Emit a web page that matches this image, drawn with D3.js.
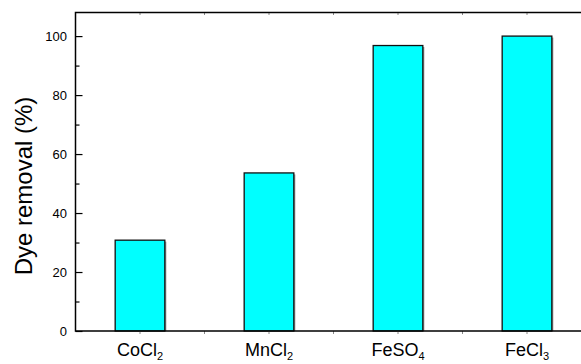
<!DOCTYPE html>
<html><head><meta charset="utf-8">
<script src="https://cdn.jsdelivr.net/npm/d3@7/dist/d3.min.js"></script>
<style>body{margin:0;background:#fff}svg{display:block}text{font-family:Arial,"Liberation Sans",sans-serif;fill:#000}</style>
</head><body>
<svg id="c" width="581" height="364"></svg>
<script>
const categories = ["CoCl2", "MnCl2", "FeSO4", "FeCl3"];
const labelMain = ["CoCl", "MnCl", "FeSO", "FeCl"];
const labelSub = ["2", "2", "4", "3"];
const values = [30.8, 53.6, 96.8, 100];
const yMajorTicks = [0, 20, 40, 60, 80, 100];
const yMinorTicks = [10, 30, 50, 70, 90];

const svg = d3.select("#c");
const L = 75.5, R = 591.5, T = 12.5, B = 331;
const x = d3.scalePoint().domain(categories).range([L, R]).padding(0.5);
const y = d3.scaleLinear().domain([0, 108]).range([B, T]);
const step = x.step();
const bw = step * 0.385;

// bars with shadow
const g = svg.append("g");
g.selectAll("rect.sh").data(values).enter().append("rect")
  .attr("x", (d,i) => x(categories[i]) - bw/2 + 1.5)
  .attr("y", d => y(d) + 1.5)
  .attr("width", bw).attr("height", d => B - y(d) - 1.5)
  .attr("fill", "#999");
g.selectAll("rect.bar").data(values).enter().append("rect")
  .attr("x", (d,i) => x(categories[i]) - bw/2)
  .attr("y", d => y(d))
  .attr("width", bw).attr("height", d => B - y(d))
  .attr("fill", "#00FFFF").attr("stroke", "#111").attr("stroke-width", 1.3);

// axes
const yAx = svg.append("g").attr("transform", `translate(${L},0)`)
  .call(d3.axisLeft(y).tickValues(yMajorTicks).tickSize(-7).tickPadding(8.5).tickFormat(d3.format("d")));
yAx.select(".domain").remove();
yAx.selectAll("text").style("font-size", "13px").attr("fill", "#000");
yAx.selectAll("line").attr("stroke", "#000").attr("stroke-width", 1.2);
const yMin = svg.append("g").attr("transform", `translate(${L},0)`)
  .call(d3.axisLeft(y).tickValues(yMinorTicks).tickSize(-4).tickFormat(""));
yMin.select(".domain").remove();
yMin.selectAll("line").attr("stroke", "#000").attr("stroke-width", 1.2);

// x ticks at centers and midpoints
const xTickPos = [];
categories.forEach((c,i) => { xTickPos.push(x(c)); if (i < categories.length-1) xTickPos.push(x(c) + step/2); });
svg.append("g").selectAll("line.bt").data(xTickPos).enter().append("line")
  .attr("x1", d => d).attr("x2", d => d).attr("y1", B).attr("y2", B + 3)
  .attr("stroke", "#888").attr("stroke-width", 1);
svg.append("g").selectAll("line.tt").data(xTickPos).enter().append("line")
  .attr("x1", d => d).attr("x2", d => d).attr("y1", T).attr("y2", T + 2.5)
  .attr("stroke", "#888").attr("stroke-width", 1);

// frame
svg.append("path").attr("d", `M${R},${T}H${L}V${B}H${R}`)
  .attr("fill", "none").attr("stroke", "#000").attr("stroke-width", 1.5);

// x labels
const xl = svg.append("g").selectAll("text").data(categories).enter().append("text")
  .attr("x", d => x(d)).attr("y", 356).attr("text-anchor", "middle").style("font-size", "18px");
xl.append("tspan").text((d,i) => labelMain[i]);
xl.append("tspan").attr("dy", 3.5).style("font-size", "11px").text((d,i) => labelSub[i]);

// y title
svg.append("text").attr("transform", `translate(32,186) rotate(-90)`)
  .attr("text-anchor", "middle").style("font-size", "24px").text("Dye removal (%)");
</script>
</body></html>
